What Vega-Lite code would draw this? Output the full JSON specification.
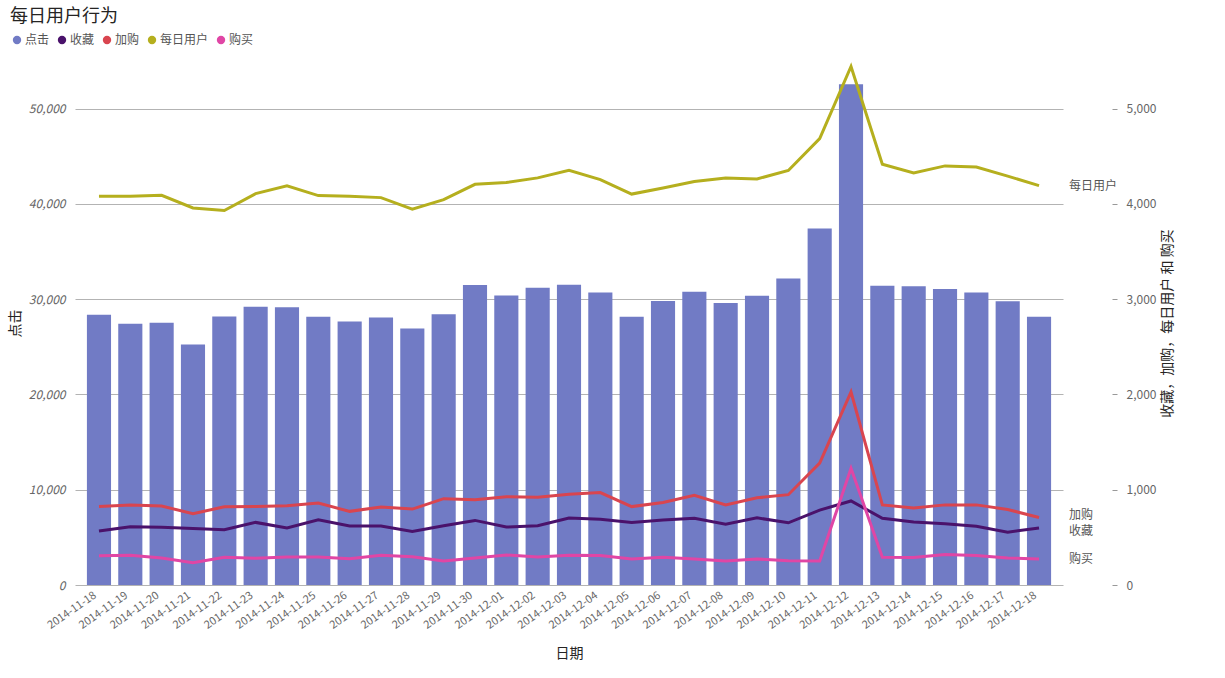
{
  "$schema": "https://vega.github.io/schema/vega-lite/v6.json",
  "autosize": "none",
  "width": 988,
  "height": 524,
  "padding": {"left": 75, "top": 61, "right": 162, "bottom": 93},
  "background": "white",
  "title": {
    "text": "每日用户行为",
    "anchor": "start",
    "frame": "group",
    "dx": -65,
    "offset": 8,
    "fontSize": 18,
    "fontWeight": "normal",
    "color": "#252423",
    "font": "Noto Sans CJK SC"
  },
  "config": {
    "font": "Noto Sans CJK SC",
    "view": {"stroke": null}
  },
  "data": {
    "values": [
      {"date": "2014-11-18", "点击": 28360, "收藏": 566, "加购": 825, "每日用户": 4080, "购买": 308},
      {"date": "2014-11-19", "点击": 27410, "收藏": 612, "加购": 839, "每日用户": 4080, "购买": 311},
      {"date": "2014-11-20", "点击": 27520, "收藏": 605, "加购": 829, "每日用户": 4091, "购买": 283},
      {"date": "2014-11-21", "点击": 25250, "收藏": 594, "加购": 748, "每日用户": 3958, "购买": 234},
      {"date": "2014-11-22", "点击": 28180, "收藏": 580, "加购": 822, "每日用户": 3930, "购买": 290},
      {"date": "2014-11-23", "点击": 29200, "收藏": 657, "加购": 825, "每日用户": 4108, "购买": 280},
      {"date": "2014-11-24", "点击": 29160, "收藏": 598, "加购": 832, "每日用户": 4189, "购买": 294},
      {"date": "2014-11-25", "点击": 28150, "收藏": 685, "加购": 860, "每日用户": 4087, "购买": 294},
      {"date": "2014-11-26", "点击": 27660, "收藏": 619, "加购": 773, "每日用户": 4080, "购买": 276},
      {"date": "2014-11-27", "点击": 28080, "收藏": 619, "加购": 818, "每日用户": 4066, "购买": 311},
      {"date": "2014-11-28", "点击": 26920, "收藏": 563, "加购": 797, "每日用户": 3944, "购买": 297},
      {"date": "2014-11-29", "点击": 28430, "收藏": 622, "加购": 906, "每日用户": 4045, "购买": 252},
      {"date": "2014-11-30", "点击": 31500, "收藏": 678, "加购": 895, "每日用户": 4206, "购买": 283},
      {"date": "2014-12-01", "点击": 30390, "收藏": 608, "加购": 927, "每日用户": 4224, "购买": 315},
      {"date": "2014-12-02", "点击": 31190, "收藏": 622, "加购": 920, "每日用户": 4273, "购买": 294},
      {"date": "2014-12-03", "点击": 31510, "收藏": 703, "加购": 953, "每日用户": 4352, "购买": 312},
      {"date": "2014-12-04", "点击": 30700, "收藏": 690, "加购": 970, "每日用户": 4255, "购买": 310},
      {"date": "2014-12-05", "点击": 28160, "收藏": 657, "加购": 823, "每日用户": 4103, "购买": 273},
      {"date": "2014-12-06", "点击": 29820, "收藏": 683, "加购": 867, "每日用户": 4166, "购买": 292},
      {"date": "2014-12-07", "点击": 30780, "收藏": 701, "加购": 941, "每日用户": 4236, "购买": 273},
      {"date": "2014-12-08", "点击": 29590, "收藏": 638, "加购": 841, "每日用户": 4273, "购买": 251},
      {"date": "2014-12-09", "点击": 30370, "收藏": 705, "加购": 915, "每日用户": 4262, "购买": 273},
      {"date": "2014-12-10", "点击": 32180, "收藏": 653, "加购": 948, "每日用户": 4351, "购买": 255},
      {"date": "2014-12-11", "点击": 37420, "收藏": 786, "加购": 1280, "每日用户": 4686, "购买": 251},
      {"date": "2014-12-12", "点击": 52550, "收藏": 882, "加购": 2026, "每日用户": 5443, "购买": 1225},
      {"date": "2014-12-13", "点击": 31400, "收藏": 701, "加购": 841, "每日用户": 4417, "购买": 292},
      {"date": "2014-12-14", "点击": 31370, "收藏": 661, "加购": 808, "每日用户": 4325, "购买": 288},
      {"date": "2014-12-15", "点击": 31070, "收藏": 642, "加购": 841, "每日用户": 4399, "购买": 321},
      {"date": "2014-12-16", "点击": 30700, "收藏": 616, "加购": 841, "每日用户": 4387, "购买": 310},
      {"date": "2014-12-17", "点击": 29780, "收藏": 554, "加购": 793, "每日用户": 4292, "购买": 284},
      {"date": "2014-12-18", "点击": 28160, "收藏": 598, "加购": 708, "每日用户": 4192, "购买": 273}
    ]
  },
  "transform": [
    {"fold": ["点击", "收藏", "加购", "每日用户", "购买"], "as": ["指标", "value"]}
  ],
  "encoding": {
    "x": {
      "field": "date",
      "type": "ordinal",
      "scale": {"paddingInner": 0.23, "paddingOuter": 0.38},
      "axis": {
        "title": "日期",
        "titleFontSize": 14,
        "titleFontWeight": "normal",
        "titleColor": "#252423",
        "titlePadding": 16,
        "labelAngle": -35,
        "labelFontSize": 11,
        "labelColor": "#666666",
        "labelPadding": 4,
        "labelOffset": -7,
        "domain": false,
        "ticks": false,
        "grid": false
      }
    }
  },
  "layer": [
    {
      "transform": [{"filter": "datum['指标'] === '点击'"}],
      "mark": {"type": "bar"},
      "encoding": {
        "y": {
          "field": "value",
          "type": "quantitative",
          "scale": {"domain": [0, 55000], "nice": false},
          "axis": {
            "orient": "left",
            "values": [0, 10000, 20000, 30000, 40000, 50000],
            "format": ",.0f",
            "title": "点击",
            "titleFontSize": 14,
            "titleFontWeight": "normal",
            "titleColor": "#252423",
            "titlePadding": 6,
            "labelFontSize": 12,
            "labelFontStyle": "italic",
            "labelColor": "#666666",
            "labelPadding": 10,
            "domain": false,
            "ticks": false,
            "grid": true,
            "gridColor": "#b3b3b3",
            "gridWidth": 1
          }
        },
        "color": {
          "field": "指标",
          "type": "nominal",
          "sort": null,
          "scale": {
            "domain": ["点击", "收藏", "加购", "每日用户", "购买"],
            "range": ["#717bc5", "#4a126b", "#d9454f", "#b5af1e", "#e046a5"]
          },
          "legend": {
            "orient": "none",
            "legendX": -64,
            "legendY": -27,
            "direction": "horizontal",
            "columns": 5,
            "symbolType": "circle",
            "symbolSize": 70,
            "labelFontSize": 12,
            "labelColor": "#555555",
            "labelOffset": 2,
            "columnPadding": 6,
            "title": null
          }
        }
      }
    },
    {
      "transform": [{"filter": "datum['指标'] !== '点击'"}],
      "encoding": {
        "y": {
          "field": "value",
          "type": "quantitative",
          "scale": {"domain": [0, 5500], "nice": false},
          "axis": {
            "orient": "right",
            "offset": 49,
            "values": [0, 1000, 2000, 3000, 4000, 5000],
            "format": ",.0f",
            "title": "收藏，加购，每日用户 和 购买",
            "titleAngle": 270,
            "titleFontSize": 14,
            "titleFontWeight": "normal",
            "titleColor": "#252423",
            "titlePadding": 19,
            "labelFontSize": 12,
            "labelColor": "#666666",
            "labelPadding": 9,
            "tickSize": 5,
            "tickColor": "#999999",
            "domain": false,
            "grid": false
          }
        }
      },
      "layer": [
        {
          "mark": {"type": "line", "strokeWidth": 3},
          "encoding": {
            "stroke": {
              "field": "指标",
              "type": "nominal",
              "sort": null,
              "legend": null,
              "scale": {
                "domain": ["收藏", "加购", "每日用户", "购买"],
                "range": ["#4a126b", "#d9454f", "#b5af1e", "#e046a5"]
              }
            }
          }
        },
        {
          "transform": [{"filter": "datum.date === '2014-12-18' && (datum['指标'] === '每日用户' || datum['指标'] === '购买')"}],
          "mark": {"type": "text", "align": "left", "dx": 30, "fontSize": 12, "color": "#555555"},
          "encoding": {
            "text": {"field": "指标", "type": "nominal"}
          }
        },
        {
          "transform": [{"filter": "datum.date === '2014-12-18' && datum['指标'] === '加购'"}],
          "mark": {"type": "text", "align": "left", "dx": 30, "dy": -3, "fontSize": 12, "color": "#555555"},
          "encoding": {
            "text": {"field": "指标", "type": "nominal"}
          }
        },
        {
          "transform": [{"filter": "datum.date === '2014-12-18' && datum['指标'] === '收藏'"}],
          "mark": {"type": "text", "align": "left", "dx": 30, "dy": 3, "fontSize": 12, "color": "#555555"},
          "encoding": {
            "text": {"field": "指标", "type": "nominal"}
          }
        }
      ]
    }
  ],
  "resolve": {"scale": {"y": "independent", "color": "independent"}}
}
